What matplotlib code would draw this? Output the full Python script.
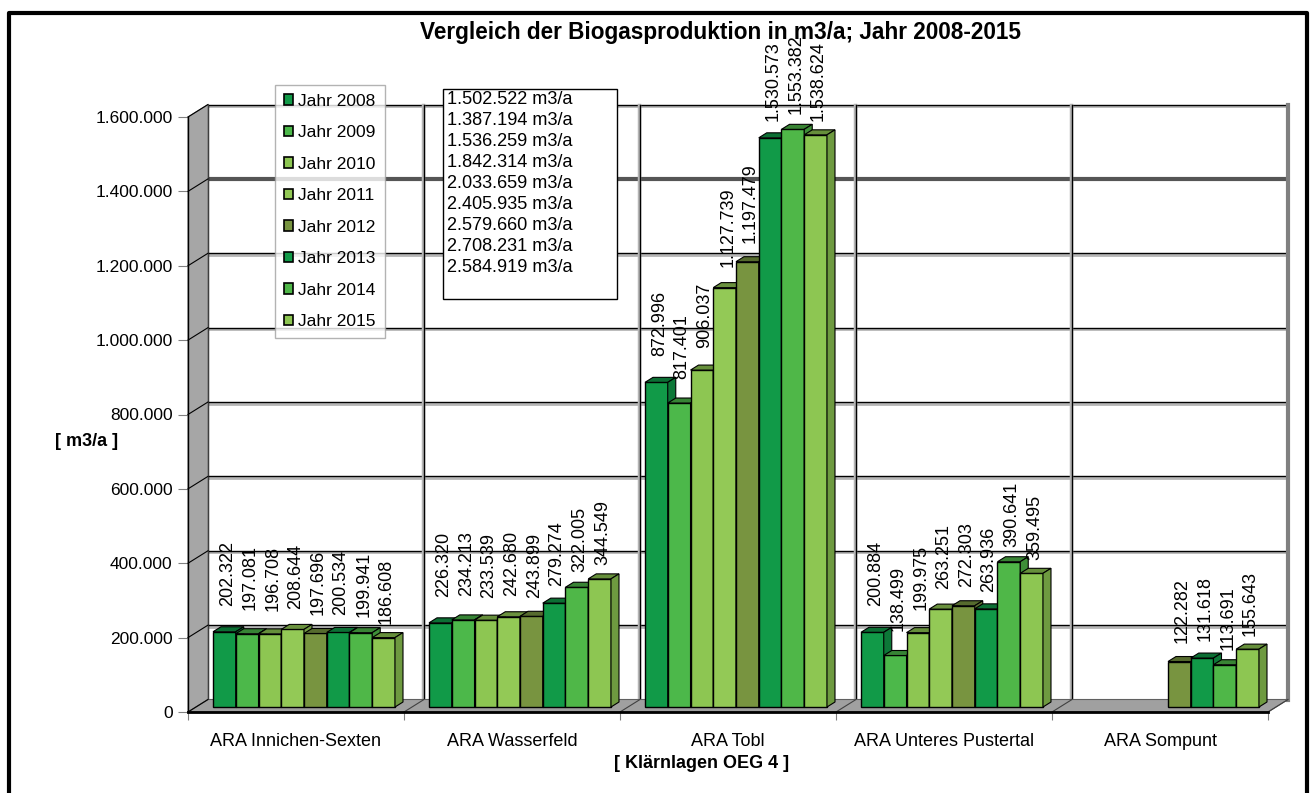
import numpy as np
import matplotlib
matplotlib.use('Agg')
import matplotlib.pyplot as plt
from matplotlib.patches import Polygon, Rectangle, Patch
from matplotlib.ticker import FuncFormatter, FixedLocator
from matplotlib.lines import Line2D
import matplotlib.colors as mcolors

plt.rcParams['font.family'] = ['Liberation Sans', 'DejaVu Sans']

# Daten (m3/a)
kategorien = ['ARA Innichen-Sexten', 'ARA Wasserfeld', 'ARA Tobl',
              'ARA Unteres Pustertal', 'ARA Sompunt']
jahre = ['Jahr 2008', 'Jahr 2009', 'Jahr 2010', 'Jahr 2011',
         'Jahr 2012', 'Jahr 2013', 'Jahr 2014', 'Jahr 2015']
innichen = [202322, 197081, 196708, 208644, 197696, 200534, 199941, 186608]
wasserfeld = [226320, 234213, 233539, 242680, 243899, 279274, 322005, 344549]
tobl = [872996, 817401, 906037, 1127739, 1197479, 1530573, 1553382, 1538624]
unteres = [200884, 138499, 199975, 263251, 272303, 263936, 390641, 359495]
sompunt = [np.nan, np.nan, np.nan, np.nan, 122282, 131618, 113691, 155643]
summen_text = ['1.502.522 m3/a', '1.387.194 m3/a', '1.536.259 m3/a',
               '1.842.314 m3/a', '2.033.659 m3/a', '2.405.935 m3/a',
               '2.579.660 m3/a', '2.708.231 m3/a', '2.584.919 m3/a']
y_ticks = [0, 200000, 400000, 600000, 800000, 1000000, 1200000, 1400000, 1600000]

farben = ['#119a48', '#4cb84a', '#8dc652', '#93c956',
          '#789440', '#119a48', '#4fb748', '#8dc652']

werte = np.array([innichen, wasserfeld, tobl, unteres, sompunt], dtype=float)
n_kat, n_ser = werte.shape


def fmt(v):
    return f'{int(round(v)):,}'.replace(',', '.')


def dunkler(c, f):
    r, g, b = mcolors.to_rgb(c)
    return (r * f, g * f, b * f)


W, H = 1310, 793
fig = plt.figure(figsize=(W / 100, H / 100), dpi=100, facecolor='white')
ax = fig.add_axes([188 / W, 1 - 712 / H, 1080 / W, 595 / H])
ax.set_xlim(0, n_kat)
ax.set_ylim(0, 1600000)
ax.patch.set_visible(False)

# Pixel -> Dateneinheiten
ux = n_kat / 1080.0
uy = 1600000 / 595.0

# Tiefe der Rückwand und der Säulen
bx, by = 20 * ux, 12.5 * uy
sx, sy = 8 * ux, 5 * uy
dx, dy = 8 * ux, 5 * uy

ymax = ax.get_ylim()[1]

# Rückwand
ax.add_patch(Rectangle((bx, by), n_kat, ymax, facecolor='white',
                       edgecolor='none', zorder=0, clip_on=False))
for v in y_ticks[1:]:
    if v == 1400000:
        ax.plot([bx, n_kat + bx], [v + by, v + by], color='#555555', lw=3,
                zorder=1, clip_on=False, solid_capstyle='butt')
    else:
        ax.plot([bx, n_kat + bx], [v + by - 1.5 * uy] * 2, color='#b5b5b5',
                lw=2, zorder=1, clip_on=False, solid_capstyle='butt')
        ax.plot([bx, n_kat + bx], [v + by, v + by], color='black', lw=1,
                zorder=1, clip_on=False, solid_capstyle='butt')
for k in range(1, n_kat):
    ax.plot([k + bx - 1.5 * ux] * 2, [by, ymax + by], color='#b5b5b5', lw=2.5,
            zorder=1, clip_on=False)
    ax.plot([k + bx] * 2, [by, ymax + by], color='black', lw=1,
            zorder=1, clip_on=False)
ax.plot([n_kat + bx] * 2, [by, ymax + by], color='#808080', lw=3,
        zorder=1, clip_on=False)
ax.plot([bx] * 2, [by, ymax + by], color='black', lw=1, zorder=1, clip_on=False)

# Seitenwand
ax.add_patch(Polygon([(0, 0), (bx, by), (bx, ymax + by), (0, ymax)],
                     closed=True, facecolor='#a6a6a6', edgecolor='#707070',
                     lw=0.8, zorder=1.5, clip_on=False))
for v in y_ticks:
    ax.plot([0, bx], [v, v + by], color='black', lw=0.8, zorder=1.6, clip_on=False)

# Boden
ax.add_patch(Polygon([(0, 0), (n_kat, 0), (n_kat + bx, by), (bx, by)],
                     closed=True, facecolor='#a0a0a0', edgecolor='#606060',
                     lw=0.8, zorder=1.5, clip_on=False))
for k in range(1, n_kat + 1):
    ax.plot([k, k + bx], [0, by], color='#404040', lw=0.8, zorder=1.6, clip_on=False)

# Säulen
w = 0.8425 / n_ser
x_kat = np.arange(n_kat)
for i in range(n_ser):
    x0 = x_kat + 0.5 - n_ser / 2 * w + i * w + sx
    z = 3 + i * 0.1
    ax.bar(x0, werte[:, i], width=w, bottom=sy, align='edge', color=farben[i],
           edgecolor='black', linewidth=1, zorder=z, label=jahre[i])
    for c in range(n_kat):
        v = werte[c, i]
        if np.isnan(v):
            continue
        top = v + sy
        xl, xr = x0[c], x0[c] + w
        ax.add_patch(Polygon([(xl, top), (xr, top), (xr + dx, top + dy),
                              (xl + dx, top + dy)], closed=True,
                             facecolor=dunkler(farben[i], 0.72),
                             edgecolor='black', lw=0.8, zorder=z, clip_on=False))
        ax.add_patch(Polygon([(xr, sy), (xr, top), (xr + dx, top + dy),
                              (xr + dx, sy + dy)], closed=True,
                             facecolor=dunkler(farben[i], 0.78),
                             edgecolor='black', lw=0.8, zorder=z, clip_on=False))
        gap = (26 - 1.8 * i) * uy
        ax.text(xl + w / 2 + 3 * ux, top + gap, fmt(v), rotation=90,
                ha='center', va='bottom', fontsize=13, zorder=10,
                clip_on=False)

# Achsen
for s in ['top', 'right']:
    ax.spines[s].set_visible(False)
ax.spines['left'].set_linewidth(1)
ax.spines['bottom'].set_linewidth(2)
ax.spines['left'].set_zorder(2)
ax.spines['bottom'].set_zorder(2)
ax.yaxis.set_major_locator(FixedLocator(y_ticks))
ax.yaxis.set_major_formatter(FuncFormatter(lambda v, p: fmt(v)))
ax.tick_params(axis='y', length=7, width=0.8, color='#808080', labelsize=12.5, pad=4)
ax.set_xticks(x_kat + 0.5)
ax.set_xticklabels(kategorien, fontsize=13)
ax.set_xticks(np.arange(n_kat + 1), minor=True)
ax.tick_params(axis='x', which='major', length=0, pad=15)
ax.tick_params(axis='x', which='minor', length=6, width=0.8, color='#808080')

# Titel und Beschriftungen
fig.text(720 / W, 1 - 32 / H, 'Vergleich der Biogasproduktion in m3/a; Jahr 2008-2015',
         ha='center', va='center', fontsize=16.3, fontweight='bold', zorder=11)
fig.text(702 / W, 1 - 763 / H, '[ Klärnlagen OEG 4 ]', ha='center', va='center',
         fontsize=13, fontweight='bold')
fig.text(87 / W, 1 - 441 / H, '[ m3/a ]', ha='center', va='center',
         fontsize=13, fontweight='bold')

# Legende
handles = [Patch(facecolor=farben[i], edgecolor='black', lw=1.2) for i in range(n_ser)]
leg = fig.legend(handles, jahre, loc='upper left',
                 bbox_to_anchor=(275 / W, 1 - 85 / H), bbox_transform=fig.transFigure,
                 borderaxespad=0, fontsize=12.5, frameon=True, fancybox=False,
                 handlelength=0.55, handleheight=0.55, handletextpad=0.3,
                 labelspacing=0.95, borderpad=0.5)
leg.get_frame().set_edgecolor('#a0a0a0')
leg.get_frame().set_linewidth(1)
leg.set_zorder(20)

# Summenbox
fig.patches.append(Rectangle((443 / W, 1 - 299 / H), 174 / W, 210 / H,
                             transform=fig.transFigure, facecolor='white',
                             edgecolor='black', lw=1, zorder=20))
fig.text(447 / W, 1 - 91 / H, '\n'.join(summen_text), ha='left', va='top',
         fontsize=13.1, linespacing=1.31, zorder=21)

# Rahmen
fig.add_artist(Line2D([8.5 / W, 8.5 / W, 1307 / W, 1307 / W],
                      [0, 1 - 12.5 / H, 1 - 12.5 / H, 0],
                      transform=fig.transFigure, color='black', lw=3))

fig.savefig('out.png', dpi=100, facecolor='white')
